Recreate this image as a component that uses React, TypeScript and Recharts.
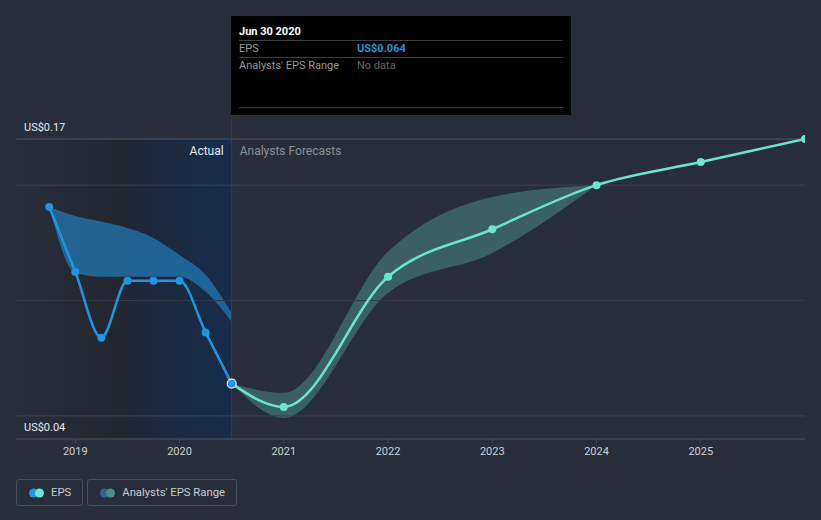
import React from 'react';
import {
  ComposedChart,
  Line,
  Area,
  XAxis,
  YAxis,
  ReferenceLine,
  ReferenceArea,
} from 'recharts';

// ---- data ----
const actualDates = [2018.75, 2019.0, 2019.25, 2019.5, 2019.75, 2020.0, 2020.25, 2020.5];
const actualEps = [0.1405, 0.1124, 0.0839, 0.1086, 0.1086, 0.1086, 0.0862, 0.064];
const actualRangeLow = [0.1405, 0.112, 0.1103, 0.1103, 0.1103, 0.1103, 0.1038, 0.0908];
const actualRangeHigh = [0.1405, 0.1366, 0.1342, 0.1314, 0.1271, 0.1197, 0.1111, 0.0946];

const forecastDates = [2020.5, 2021.0, 2022.0, 2023.0, 2024.0, 2025.0, 2026.0];
const forecastEps = [0.064, 0.0539, 0.1103, 0.1309, 0.15, 0.16, 0.17];
const forecastLow = [0.064, 0.0491, 0.1033, 0.1206, 0.15];
const forecastHigh = [0.064, 0.06, 0.1212, 0.1449, 0.15];

const xTicks = [2019, 2020, 2021, 2022, 2023, 2024, 2025];
const yLabelTicks = [0.04, 0.17];
const gridValues = [0.05, 0.1, 0.15];
const topGridValue = 0.17;
const xDomain: [number, number] = [2018.431, 2026.0];
const yDomain: [number, number] = [0.04, 0.1804];
const pastStart = 2018.431;
const lastYearStart = 2019.5;
const lastActualDate = 2020.5;

// ---- styles ----
const BG = '#272d3a';
const BLUE = '#2394df';
const TEAL = '#6be5cf';
const FONT = 'Roboto, "Noto Sans", sans-serif';

type Row = {
  x: number;
  eps?: number;
  actualRange?: [number, number];
  forecast?: number;
  forecastRange?: [number, number];
};

const rowMap = new Map<number, Row>();
const getRow = (x: number): Row => {
  if (!rowMap.has(x)) rowMap.set(x, { x });
  return rowMap.get(x)!;
};
actualDates.forEach((d, i) => {
  const r = getRow(d);
  r.eps = actualEps[i];
  r.actualRange = [actualRangeLow[i], actualRangeHigh[i]];
});
forecastDates.forEach((d, i) => {
  const r = getRow(d);
  r.forecast = forecastEps[i];
  if (i < forecastLow.length) r.forecastRange = [forecastLow[i], forecastHigh[i]];
});
const rows = Array.from(rowMap.values()).sort((a, b) => a.x - b.x);

const ActualDot = (props: any) => {
  const { cx, cy, payload } = props;
  if (cx == null || cy == null) return null;
  if (payload && payload.x === lastActualDate) {
    return <circle key={`ad-${payload.x}`} cx={cx} cy={cy} r={4.5} fill={BLUE} stroke="#e8eef5" strokeWidth={1.2} />;
  }
  return <circle key={`ad-${payload?.x}`} cx={cx} cy={cy} r={4} fill={BLUE} stroke="none" />;
};

const ForecastDot = (props: any) => {
  const { cx, cy, payload } = props;
  if (cx == null || cy == null) return null;
  return <circle key={`fd-${payload?.x}`} cx={cx} cy={cy} r={4} fill={TEAL} stroke="none" />;
};

const DividerLabel = (props: any) => {
  const vb = props.viewBox || {};
  const x = vb.x ?? 0;
  const y = vb.y ?? 0;
  return (
    <g>
      <text x={x - 8} y={y + 40} textAnchor="end" fill="#e8eaed" fontSize={12} fontFamily={FONT}>
        Actual
      </text>
      <text x={x + 8} y={y + 40} textAnchor="start" fill="#8b9098" fontSize={12} fontFamily={FONT}>
        Analysts Forecasts
      </text>
    </g>
  );
};

const makeYLabel = (value: number) => (props: any) => {
  const vb = props.viewBox || {};
  const x = vb.x ?? 0;
  const y = vb.y ?? 0;
  return (
    <text x={x + 8} y={y - 8} fill="#e8eaed" fontSize={11} fontFamily={FONT} textAnchor="start">
      {`US$${value.toFixed(2)}`}
    </text>
  );
};

const XTick = (props: any) => {
  const { x, y, payload } = props;
  return (
    <text x={x} y={y + 10} fill="#cfd2d7" fontSize={11} fontFamily={FONT} textAnchor="middle">
      {payload.value}
    </text>
  );
};

const LegendBox = ({ c1, c2, label }: { c1: string; c2: string; label: string }) => (
  <div
    style={{
      display: 'flex',
      alignItems: 'center',
      height: 27,
      border: '1px solid #4a505b',
      borderRadius: 3,
      padding: '0 11px 0 12px',
      marginRight: 4,
      boxSizing: 'border-box',
      fontFamily: FONT,
      fontSize: 11.3,
      color: '#c9cdd3',
    }}
  >
    <svg width={15} height={12} style={{ marginRight: 7, display: 'block' }}>
      <circle cx={4.5} cy={6} r={4.5} fill={c1} />
      <circle cx={10.5} cy={6} r={4.5} fill={c2} />
    </svg>
    <span>{label}</span>
  </div>
);

export default function App() {
  return (
    <div
      style={{
        position: 'absolute',
        left: 0,
        top: 0,
        width: 821,
        height: 520,
        background: BG,
        overflow: 'hidden',
        fontFamily: FONT,
      }}
    >
      <ComposedChart
        width={821}
        height={520}
        data={rows}
        margin={{ top: 115, right: 16, left: 16, bottom: 51 }}
      >
        <defs>
          <linearGradient id="pastGrad" x1="0" y1="0" x2="1" y2="0">
            <stop offset="0%" stopColor="#272d3a" />
            <stop offset="100%" stopColor="#21262f" />
          </linearGradient>
          <linearGradient id="lastYearGrad" x1="0" y1="0" x2="1" y2="0">
            <stop offset="0%" stopColor="#1e2736" />
            <stop offset="100%" stopColor="#172c4b" />
          </linearGradient>
        </defs>
        <XAxis
          dataKey="x"
          type="number"
          domain={xDomain}
          ticks={xTicks}
          allowDataOverflow
          height={30}
          axisLine={{ stroke: '#4d535e' }}
          tickLine={{ stroke: '#4d535e' }}
          tickSize={4}
          tick={<XTick />}
        />
        <YAxis type="number" domain={yDomain} allowDataOverflow width={0} hide />
        <ReferenceArea
          x1={pastStart}
          x2={lastYearStart}
          y1={yDomain[0]}
          y2={topGridValue}
          fill="url(#pastGrad)"
          fillOpacity={1}
          stroke="none"
        />
        <ReferenceArea
          x1={lastYearStart}
          x2={lastActualDate}
          y1={yDomain[0]}
          y2={topGridValue}
          fill="url(#lastYearGrad)"
          fillOpacity={1}
          stroke="none"
        />
        {gridValues.map((v) => (
          <ReferenceLine key={v} y={v} stroke={v === 0.1 ? '#343b47' : '#3c424e'} strokeWidth={1} />
        ))}
        <ReferenceLine y={topGridValue} stroke="#4f5561" strokeWidth={1} />
        {yLabelTicks.map((v) => (
          <ReferenceLine
            key={`yl-${v}`}
            y={v}
            stroke="none"
            strokeOpacity={0}
            label={makeYLabel(v)}
          />
        ))}
        <ReferenceLine x={lastActualDate} stroke="#2f4058" strokeWidth={1} label={<DividerLabel />} />
        <Area
          dataKey="actualRange"
          type="monotone"
          fill={BLUE}
          fillOpacity={0.55}
          stroke="none"
          isAnimationActive={false}
          legendType="none"
          activeDot={false}
        />
        <Area
          dataKey="forecastRange"
          type="monotone"
          fill={TEAL}
          fillOpacity={0.28}
          stroke="none"
          isAnimationActive={false}
          legendType="none"
          activeDot={false}
        />
        <Line
          dataKey="forecast"
          type="monotone"
          stroke={TEAL}
          strokeWidth={2.5}
          dot={<ForecastDot />}
          activeDot={false}
          isAnimationActive={false}
        />
        <Line
          dataKey="eps"
          type="monotone"
          stroke={BLUE}
          strokeWidth={2.5}
          dot={<ActualDot />}
          activeDot={false}
          isAnimationActive={false}
        />
      </ComposedChart>

      <div style={{ position: 'absolute', left: 16, top: 479, display: 'flex' }}>
        <LegendBox c1={BLUE} c2={TEAL} label="EPS" />
        <LegendBox c1="#2c6494" c2="#4c8f8a" label="Analysts' EPS Range" />
      </div>

      <div
        style={{
          position: 'absolute',
          left: 231,
          top: 16,
          width: 340,
          height: 99,
          background: '#000',
          boxSizing: 'border-box',
          padding: '0 8px',
          fontFamily: FONT,
          fontSize: 11,
        }}
      >
        <div style={{ height: 24, lineHeight: '31px', color: '#fff', fontWeight: 700, borderBottom: '1px solid #3d3d3d' }}>
          Jun 30 2020
        </div>
        <div style={{ display: 'flex', height: 16, lineHeight: '16px', borderBottom: '1px solid #3d3d3d' }}>
          <span style={{ width: 118, color: '#9a9a9a' }}>EPS</span>
          <span style={{ color: BLUE, fontWeight: 700 }}>US$0.064</span>
        </div>
        <div style={{ display: 'flex', height: 49, lineHeight: '16px', borderBottom: '1px solid #3d3d3d' }}>
          <span style={{ width: 118, color: '#9a9a9a' }}>Analysts' EPS Range</span>
          <span style={{ color: '#666' }}>No data</span>
        </div>
      </div>
    </div>
  );
}
